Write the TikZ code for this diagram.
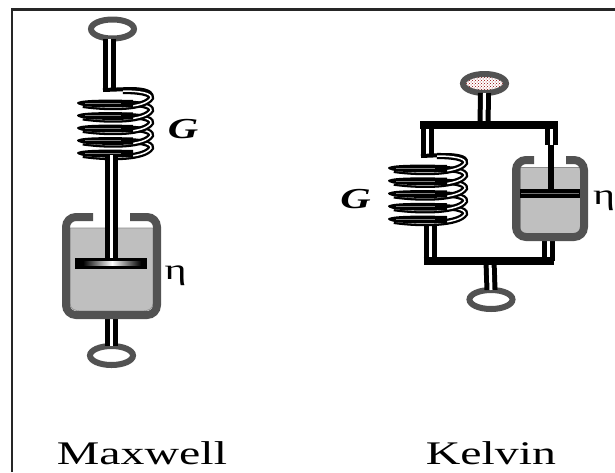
\documentclass[tikz,border=0pt]{standalone}
\usepackage{fontspec}
\setmainfont{Liberation Serif}
\usetikzlibrary{calc,patterns,shapes.geometric}
\definecolor{wallgray}{gray}{0.32}
\definecolor{fluidgray}{gray}{0.75}
\tikzset{%
	frameline/.style = {draw=black!85, line width=2.4pt},
	rod/.style       = {draw=black, line width=5pt, double=white, double distance=3pt},
	bar/.style       = {draw=black, line width=8pt},
	ring/.style      = {draw=wallgray, ellipse, line width=6pt, fill=white, minimum width=43pt, minimum height=19pt, inner sep=0pt, outer sep=0pt},
	wall/.style      = {draw=wallgray, line width=8pt, rounded corners=10pt},
	fluid/.style     = {fill=fluidgray, draw=black!45, line width=0.6pt},
	wire/.style      = {draw=black, line width=2.3pt, double=white, double distance=1.5pt, line cap=butt},
	tag/.style       = {inner sep=0pt, anchor=base},
	title/.style     = {tag, font=\fontsize{33}{33}\selectfont},
	symbol/.style    = {tag, font=\fontsize{29}{29}\selectfont},
	modulus/.style   = {tag, font=\fontsize{29}{29}\selectfont\bfseries\itshape},
}
\newcommand{\wide}[1]{\scalebox{1.45}[1]{#1}}
\newcommand{\springcoils}[4]{% left x, right x, first y, step
	\foreach \k in {4,3,...,0} {
		\pgfmathsetmacro{\yf}{#3+\k*#4}
		\draw[wire] ({#1+6},\yf+2) .. controls ({#1+35},{\yf+6}) and ({#2-6},{\yf+5}) .. (#2,{\yf-5}) .. controls ({#2+1},{\yf-10}) and ({#2-12},{\yf-12}) .. ({#2-28},{\yf-12});
		\fill[black] (#1,\yf) .. controls (#1,{\yf-3}) and ({#1+20},{\yf-4}) .. ({#2-18},{\yf-3}) -- ({#2-18},{\yf+4}) .. controls ({#1+25},{\yf+5}) and (#1,{\yf+4}) .. cycle;
		\draw[black!50,line width=0.4pt] ({#1+8},\yf) -- ({#2-30},\yf);
	}
}
\begin{document}
\begin{tikzpicture}[x=1pt,y=-1pt]
	\useasboundingbox (0,0) rectangle (615,472);
	
	% frame
	\draw[frameline] (12,472) -- (12,9.5) -- (615,9.5);
	
	% Maxwell
	\node[ring] (mringtop) at (112.5,29) {};
	\node[ring] (mringbot) at (111.5,355.5) {};
	\coordinate (mspring) at (109.5,91);
	\coordinate (mlow) at (111.5,155);
	\coordinate (mpiston) at (111.5,258);
	\coordinate (mcup) at (111.5,318);
	\draw[rod] (mringtop.south -| mspring) -- (mspring);
	\draw[rod] (mcup) -- (mringbot.north);
	\draw[black,line width=4pt] (103,90) -- (130,89) .. controls (145,89) and (155,92) .. (150,99);
	\springcoils{77}{151}{103}{12.5}
	\fill[fluid] (70,228) -- (153,228) -- (153,303) .. controls (153,309) and (148,311) .. (142,311) -- (81,311) .. controls (75,311) and (70,309) .. (70,303) -- cycle;
	\draw[wall] (93,217) -- (66,217) -- (66,315) -- (157,315) -- (157,217) -- (130,217);
	\draw[rod] (mlow) -- (mpiston);
	\fill[black] (75,258) rectangle (147,269);
	\shade[left color=black,right color=black,middle color=white] (83,261.5) rectangle (141,265);
	\node[symbol] (etamax) at (175.5,279) {\wide{η}};
	\node[modulus] (gmax) at (183,138) {\wide{G}};
	\node[title] (maxwell) at (142,464.5) {\wide{Maxwell}};
	
	% Kelvin
	\node[ring,pattern=crosshatch dots,pattern color=red!55!black] (kringtop) at (484.5,83.5) {};
	\node[ring] (kringbot) at (491,299.5) {};
	\coordinate (kjoin) at (484,125);
	\coordinate (kleft) at (427,125);
	\coordinate (kright) at (551,125);
	\coordinate (kcoil) at (427,156);
	\coordinate (kshaft) at (551,145);
	\coordinate (kpiston) at (551,189);
	\coordinate (klow) at (430,220);
	\coordinate (kbl) at (430,261);
	\coordinate (kbr) at (548.5,261);
	\coordinate (kcup) at (548.5,240);
	\coordinate (kout) at (490,261);
	\draw[rod] (kringtop.south) -- (kjoin);
	\draw[rod] (kout) -- (kringbot.north);
	\draw[rod] (kleft) -- (kcoil);
	\draw[rod] (kright) -- (kshaft);
	\draw[rod] (kbl) -- (klow);
	\draw[rod] (kbr) -- (kcup);
	\draw[bar] (420,125) -- (557.5,125);
	\draw[bar] (423.5,261) -- (554,261);
	\draw[black,line width=4pt] (421,156) -- (445,155) .. controls (460,155) and (470,158) .. (464,164);
	\springcoils{388}{465}{168}{12.75}
	\fill[fluid] (520,167) rectangle (580,233);
	\draw[wall] (534,160) -- (516,160) -- (516,237) -- (584,237) -- (584,160) -- (566,160);
	\draw[black,line width=6.6pt] (kshaft) -- (kpiston);
	\fill[black] (520,189) rectangle (580,198);
	\draw[black!55,line width=0.6pt] (521,193.5) -- (579,193.5);
	\node[symbol] (etakel) at (604,204) {\wide{η}};
	\node[modulus] (gkel) at (355.5,208) {\wide{G}};
	\node[title] (kelvin) at (491,464.5) {\wide{Kelvin}};
	
\end{tikzpicture}
\end{document}
